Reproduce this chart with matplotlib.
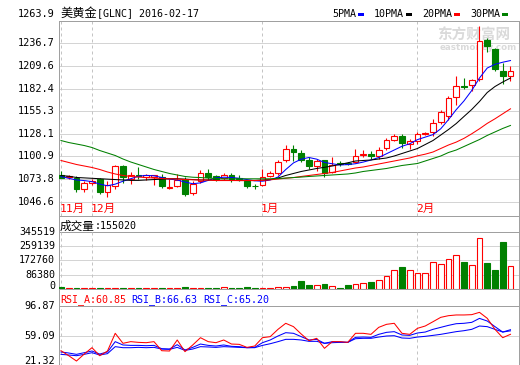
import matplotlib
matplotlib.use("Agg")
import matplotlib.pyplot as plt
from matplotlib.patches import Rectangle
from matplotlib.transforms import blended_transform_factory
import numpy as np

# ---------------- data ----------------
opens = [1078.9, 1075.5, 1075.1, 1061.9, 1069.0, 1073.9, 1057.8, 1065.0, 1089.0, 1074.0,
         1078.5, 1075.5, 1076.0, 1075.8, 1063.0, 1065.0, 1074.0, 1057.0, 1071.0, 1080.6,
         1077.0, 1075.0, 1079.0, 1075.0, 1071.6, 1065.0, 1067.0, 1077.8, 1080.6, 1095.9,
         1110.0, 1105.0, 1096.8, 1089.0, 1096.0, 1082.0, 1092.5, 1092.5, 1093.8, 1103.0,
         1104.0, 1101.0, 1110.6, 1120.7, 1125.9, 1115.9, 1119.9, 1128.0, 1129.9, 1142.7,
         1149.0, 1172.8, 1185.0, 1187.0, 1194.0, 1241.0, 1230.0, 1204.0, 1197.0]
highs = [1083.0, 1078.0, 1077.0, 1071.8, 1074.0, 1075.0, 1071.8, 1091.0, 1090.0, 1082.0,
         1088.6, 1080.0, 1079.0, 1080.0, 1074.0, 1080.0, 1076.0, 1071.0, 1084.0, 1086.0,
         1079.0, 1081.0, 1081.0, 1078.0, 1073.0, 1068.0, 1086.0, 1083.0, 1096.0, 1114.0,
         1115.0, 1109.0, 1100.0, 1098.0, 1097.0, 1100.0, 1095.0, 1094.0, 1110.0, 1108.0,
         1107.0, 1112.0, 1123.0, 1128.0, 1128.0, 1122.0, 1130.0, 1130.7, 1146.0, 1157.0,
         1173.0, 1198.0, 1195.0, 1194.0, 1257.0, 1243.0, 1231.0, 1213.0, 1209.0]
lows = [1074.5, 1074.0, 1057.8, 1057.7, 1067.0, 1055.8, 1051.8, 1062.0, 1069.0, 1068.0,
        1074.0, 1073.0, 1066.0, 1063.0, 1062.0, 1064.0, 1053.0, 1055.0, 1069.0, 1072.0,
        1071.0, 1072.0, 1070.0, 1071.0, 1063.0, 1062.0, 1065.6, 1076.0, 1079.0, 1094.0,
        1095.0, 1094.0, 1086.0, 1083.0, 1075.8, 1081.0, 1089.0, 1090.0, 1092.6, 1100.0,
        1098.0, 1098.0, 1109.0, 1119.0, 1110.7, 1110.0, 1116.0, 1126.0, 1125.9, 1140.0,
        1145.0, 1162.0, 1182.0, 1180.0, 1191.5, 1226.0, 1204.0, 1188.0, 1192.0]
closes = [1074.6, 1077.0, 1061.9, 1068.6, 1071.5, 1057.8, 1066.7, 1089.5, 1075.8, 1078.7,
          1077.0, 1078.0, 1078.0, 1065.0, 1064.0, 1073.0, 1056.0, 1068.0, 1080.6, 1076.0,
          1073.5, 1079.0, 1074.0, 1074.0, 1065.8, 1064.8, 1076.0, 1080.7, 1093.8, 1109.9,
          1105.8, 1097.0, 1089.0, 1094.8, 1081.0, 1091.0, 1092.0, 1092.0, 1101.9, 1104.0,
          1101.0, 1109.0, 1120.7, 1125.9, 1116.7, 1119.0, 1127.9, 1129.0, 1141.2, 1154.7,
          1171.2, 1185.9, 1184.5, 1193.0, 1240.0, 1233.0, 1206.0, 1197.0, 1204.0]

ma5 = [1076.6, 1074.5, 1072.5, 1071.8, 1070.5, 1067.5, 1065.5, 1067.5, 1071.0, 1074.0,
       1077.0, 1078.0, 1077.5, 1075.5, 1073.5, 1072.5, 1070.0, 1068.0, 1069.0, 1072.0,
       1075.0, 1075.8, 1075.5, 1074.5, 1073.0, 1071.5, 1071.0, 1072.5, 1076.0, 1085.0,
       1093.0, 1097.5, 1099.5, 1097.5, 1093.5, 1092.0, 1090.5, 1091.0, 1092.0, 1094.0,
       1096.5, 1099.5, 1104.0, 1108.5, 1113.0, 1116.0, 1121.0, 1124.0, 1127.0, 1134.0,
       1145.0, 1157.0, 1167.5, 1180.0, 1195.0, 1207.0, 1211.5, 1214.0, 1216.0]
ma10 = [1077.8, 1077.0, 1075.5, 1075.0, 1074.5, 1074.0, 1073.5, 1073.0, 1072.5, 1072.0,
        1072.0, 1072.5, 1073.0, 1073.5, 1074.0, 1074.0, 1073.5, 1073.0, 1072.5, 1072.5,
        1072.0, 1072.0, 1072.0, 1071.8, 1071.8, 1071.8, 1072.4, 1073.0, 1074.8, 1077.9,
        1080.3, 1082.7, 1084.5, 1086.3, 1087.7, 1089.3, 1091.1, 1093.1, 1095.3, 1095.9,
        1096.5, 1097.7, 1098.9, 1101.3, 1104.3, 1107.3, 1110.3, 1115.1, 1119.9, 1126.5,
        1133.1, 1140.3, 1148.8, 1157.2, 1166.8, 1177.6, 1184.8, 1190.2, 1195.0]
ma20 = [1095.9, 1093.5, 1091.1, 1089.3, 1087.5, 1085.1, 1082.1, 1079.7, 1077.9, 1076.7,
        1076.0, 1075.4, 1074.8, 1074.2, 1073.9, 1073.6, 1073.0, 1072.7, 1072.4, 1072.4,
        1071.8, 1071.8, 1071.8, 1071.8, 1071.8, 1071.8, 1072.1, 1072.7, 1073.6, 1074.6,
        1075.4, 1076.7, 1077.9, 1079.1, 1080.3, 1081.5, 1083.3, 1085.1, 1086.9, 1088.1,
        1089.9, 1091.7, 1093.5, 1095.3, 1097.1, 1098.9, 1101.5, 1103.5, 1106.1, 1110.3,
        1114.5, 1118.0, 1122.5, 1128.0, 1134.0, 1140.5, 1146.0, 1152.0, 1158.0]
ma30 = [1119.9, 1117.5, 1115.7, 1113.9, 1111.5, 1107.9, 1104.9, 1101.9, 1097.7, 1094.1,
        1091.1, 1088.1, 1085.1, 1082.7, 1080.3, 1078.5, 1076.7, 1075.8, 1075.4, 1074.8,
        1074.2, 1073.9, 1073.9, 1073.9, 1073.9, 1073.9, 1073.9, 1073.9, 1074.2, 1074.8,
        1075.4, 1076.0, 1076.7, 1077.3, 1077.9, 1078.5, 1079.1, 1079.7, 1080.9, 1082.7,
        1083.9, 1085.1, 1086.3, 1088.1, 1089.9, 1091.1, 1092.3, 1095.3, 1098.3, 1101.3,
        1105.5, 1108.5, 1112.7, 1116.9, 1121.1, 1126.0, 1130.2, 1134.4, 1138.0]

volumes = [11000, 4000, 4500, 4000, 4000, 4500, 4000, 4500, 4500, 4000,
           4000, 4000, 4000, 4500, 4000, 4000, 11000, 4000, 4000, 4500,
           4500, 11000, 4500, 4500, 11000, 4500, 4500, 4500, 11400, 11400,
           20500, 54600, 27300, 25000, 34100, 18200, 6800, 27300, 31800, 40900,
           47700, 59100, 86400, 127300, 150000, 127300, 109100, 109100, 184100, 170500,
           202300, 231900, 184100, 161400, 345519, 179600, 129600, 320500, 155020]

rsi_a = [40.2, 33.9, 27.2, 36.0, 44.0, 33.9, 39.8, 62.1, 49.5, 51.6,
         50.7, 50.3, 51.6, 40.2, 39.8, 53.7, 39.0, 47.4, 56.6, 51.6,
         50.3, 53.7, 48.6, 48.2, 44.4, 46.1, 56.6, 57.9, 67.1, 74.7,
         70.5, 61.2, 52.8, 55.8, 43.2, 51.6, 51.6, 50.7, 62.1, 62.1,
         60.8, 69.6, 73.4, 74.7, 62.1, 60.8, 68.4, 71.3, 76.7, 82.2,
         84.3, 85.2, 85.2, 85.6, 88.5, 81.0, 67.1, 56.6, 60.85]
rsi_b = [38.6, 37.3, 35.6, 37.7, 39.8, 36.0, 38.6, 51.6, 47.4, 46.9,
         46.9, 46.5, 46.9, 42.7, 42.3, 47.8, 41.1, 44.4, 48.6, 46.9,
         46.1, 47.4, 45.7, 45.3, 44.0, 44.4, 50.3, 53.7, 58.7, 62.9,
         62.1, 57.9, 53.7, 54.5, 49.5, 51.6, 51.2, 50.7, 57.0, 57.4,
         57.0, 60.8, 63.3, 64.2, 60.0, 59.5, 62.5, 63.7, 67.1, 69.6,
         72.1, 74.2, 74.7, 75.9, 80.9, 77.6, 70.5, 63.7, 66.63]
rsi_c = [35.6, 34.8, 33.9, 35.6, 37.7, 34.8, 36.5, 45.3, 44.0, 44.0,
         44.4, 44.0, 44.4, 42.3, 41.9, 44.4, 40.6, 42.3, 45.3, 44.9,
         44.4, 45.3, 44.9, 44.4, 44.0, 44.0, 46.9, 49.0, 51.6, 54.5,
         54.5, 53.7, 52.0, 52.0, 49.5, 50.3, 50.7, 50.7, 55.3, 55.8,
         55.8, 57.4, 58.7, 59.1, 56.2, 55.8, 57.4, 58.3, 59.5, 60.8,
         62.5, 64.2, 65.4, 67.1, 71.3, 70.5, 67.1, 63.7, 65.20]

month_labels = ["11月", "12月", "1月", "2月"]
month_index = [0, 4, 26, 46]
price_ticks = [1263.9, 1236.7, 1209.6, 1182.4, 1155.3, 1128.1, 1100.9, 1073.8, 1046.6]
vol_tick_labels = ["345519", "259139", "172760", "86380", "0"]
rsi_ticks = [96.87, 59.09, 21.32]
ma_names = ["5PMA", "10PMA", "20PMA", "30PMA"]

# ---------------- style ----------------
W, H = 520, 365
RED, GREEN, BLUE, BLACK = "#ff0000", "#008000", "#0000ff", "#000000"
BORDER = "#a0a0a0"
GRID = "#d4d4d4"
DASH = "#c4c4c4"
MONO = "DejaVu Sans Mono"
CJK = "Noto Sans CJK SC"
PX = 0.72  # one pixel in points


def fx(px):
    return px / W


def fy(py):
    return 1 - py / H


fig = plt.figure(figsize=(W / 100, H / 100), dpi=100)
fig.patch.set_facecolor("white")

L, R = 58.5, 519.0
MAIN_T, MAIN_B = 20.7, 216.0
VOL_B = 289.0
RSI_B = 365.7

ax = fig.add_axes([fx(L), fy(MAIN_B), (R - L) / W, (MAIN_B - MAIN_T) / H])
axv = fig.add_axes([fx(L), fy(VOL_B), (R - L) / W, (VOL_B - MAIN_B) / H])
axr = fig.add_axes([fx(L), fy(RSI_B), (R - L) / W, (RSI_B - VOL_B) / H])

n = len(closes)
x = np.arange(n)
o = np.array(opens); c = np.array(closes); hi = np.array(highs); lo = np.array(lows)
up = c >= o
cols = np.where(up, RED, GREEN)
faces = np.where(up, "white", GREEN)
xlim = (-0.32, 59.1)

for a in (ax, axv, axr):
    a.set_facecolor("none")
    a.set_xlim(*xlim)
    a.set_xticks([])
    a.tick_params(left=False, bottom=False, labelleft=False)
    for s in a.spines.values():
        s.set_color(BORDER)
        s.set_linewidth(PX)

# ---- main panel ----
ax.set_ylim(1029.2, 1263.9)
for t in price_ticks[1:]:
    ax.axhline(t, color=GRID, lw=PX, zorder=0)
for t in price_ticks:
    dy = 5 if t == price_ticks[0] else 0
    ax.annotate(f"{t:.1f}", xy=(0, t), xycoords=("axes fraction", "data"),
                xytext=(-2.5, dy), textcoords="offset points", ha="right", va="center",
                family=MONO, fontsize=7.4, color="black")

for mi in month_index:
    ax.axvline(mi, color=DASH, lw=PX, ls=(0, (3, 3)), zorder=0.5)
    axv.axvline(mi, ymax=(VOL_B - 231.7) / (VOL_B - MAIN_B), color=DASH, lw=PX, ls=(0, (3, 3)), zorder=0.5)
    axr.axvline(mi, ymax=(RSI_B - 305.7) / (RSI_B - VOL_B), color=DASH, lw=PX, ls=(0, (3, 3)), zorder=0.5)

trans_m = blended_transform_factory(ax.transData, ax.transAxes)
for lab, mi in zip(month_labels, month_index):
    ax.text(mi - 0.2, (MAIN_B - 208.5) / (MAIN_B - MAIN_T), lab, transform=trans_m,
            ha="left", va="center", color=RED, fontsize=8.2, family=[MONO, CJK])

# watermark
ax.text(fx(437), fy(35), "东方财富网", transform=fig.transFigure, family=CJK,
        fontsize=10.5, fontweight="bold", color="#dadada", va="center", ha="left", zorder=0.3)
ax.text(fx(440), fy(47), "eastmoney.com", transform=fig.transFigure, family="DejaVu Sans",
        fontsize=6.3, fontweight="bold", color="#dadada", va="center", ha="left", zorder=0.3)

ax.vlines(x, lo, hi, colors=cols, lw=0.8, zorder=2)
ax.bar(x, np.abs(c - o), bottom=np.minimum(o, c), width=0.72, color=faces,
       edgecolor=cols, linewidth=0.8, zorder=3)
for vals, col in zip((ma5, ma10, ma20, ma30), (BLUE, BLACK, RED, GREEN)):
    ax.plot(x, vals, color=col, lw=0.75, zorder=4)

# title and legend
fig.text(fx(60), fy(13.5), "美黄金", family=CJK, fontsize=8.8, va="center", ha="left")
fig.text(fx(97), fy(13.5), "[GLNC] 2016-02-17", family=MONO, fontsize=7.2, va="center", ha="left")
leg_x = [332, 374, 422, 470]
for name, lx, col in zip(ma_names, leg_x, (BLUE, BLACK, RED, GREEN)):
    fig.text(fx(lx), fy(14), name, family=MONO, fontsize=7.2, va="center", ha="left")
    w = 6.0 * len(name)
    fig.add_artist(Rectangle((fx(lx + w + 2), fy(15.5)), 5.5 / W, 3 / H,
                             transform=fig.transFigure, color=col, lw=0))

# ---- volume panel ----
VTOP = 345519 / 0.885
vspan = (VOL_B - 231.7) / (VOL_B - MAIN_B)
axv.set_ylim(0, VTOP / vspan)
vt_pos = [VTOP * k / 4 for k in (4, 3, 2, 1, 0)]
for p, lab in zip(vt_pos, vol_tick_labels):
    if p == vt_pos[0]:
        axv.axhline(p, color=BORDER, lw=PX, zorder=0)
    elif p > 0:
        axv.axhline(p, color=GRID, lw=PX, zorder=0)
    dy = 2.2 if lab == "0" else 0
    axv.annotate(lab, xy=(0, p), xycoords=("axes fraction", "data"), xytext=(-2.5, dy),
                 textcoords="offset points", ha="right", va="center", family=MONO,
                 fontsize=7.2, color="black")
axv.bar(x, volumes, width=0.72, color=faces, edgecolor=cols, linewidth=0.8, zorder=3)
fig.text(fx(60), fy(226), "成交量", family=CJK, fontsize=8.4, va="center", ha="left")
fig.text(fx(94.5), fy(226), f":{volumes[-1]}", family=MONO, fontsize=7.2, va="center", ha="left")

# ---- RSI panel ----
rtop = 96.87 + (305.7 - VOL_B) * (96.87 - 21.32) / (RSI_B - 305.7)
axr.set_ylim(21.32, rtop)
axr.axhline(96.87, color=BORDER, lw=PX, zorder=0)
axr.axhline(59.09, color=GRID, lw=PX, zorder=0)
for t in rsi_ticks:
    dy = 3.6 if t == rsi_ticks[-1] else 0
    axr.annotate(f"{t:.2f}", xy=(0, t), xycoords=("axes fraction", "data"), xytext=(-2.5, dy),
                 textcoords="offset points", ha="right", va="center", family=MONO,
                 fontsize=7.4, color="black")
axr.plot(x, rsi_c, color=BLUE, lw=0.75, zorder=3)
axr.plot(x, rsi_b, color=BLUE, lw=0.75, zorder=3)
axr.plot(x, rsi_a, color=RED, lw=0.75, zorder=4)
for lab, val, col, px_ in (("RSI_A", rsi_a[-1], RED, 60), ("RSI_B", rsi_b[-1], BLUE, 131.7),
                           ("RSI_C", rsi_c[-1], BLUE, 203.3)):
    fig.text(fx(px_), fy(300), f"{lab}:{val:.2f}", family=MONO, fontsize=7.2,
             color=col, va="center", ha="left")

fig.savefig("out.png", dpi=100, facecolor="white")
